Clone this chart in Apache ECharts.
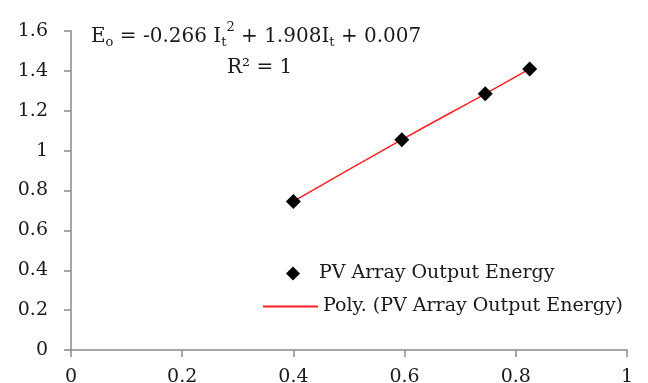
<!DOCTYPE html>
<html>
<head>
<meta charset="utf-8">
<script src="https://cdn.jsdelivr.net/npm/echarts@6/dist/echarts.min.js"></script>
<style>
  html, body { margin: 0; padding: 0; background: #fff; }
  #chart { width: 648px; height: 383px; }
</style>
</head>
<body>
<div id="chart"></div>
<script>
// Irradiance (x) vs PV array output energy (y)
const irradiance = [0.40, 0.595, 0.745, 0.825];
const outputEnergy = [0.745, 1.055, 1.285, 1.41];

const xTicks = [0, 0.2, 0.4, 0.6, 0.8, 1];
const yTicks = [0, 0.2, 0.4, 0.6, 0.8, 1, 1.2, 1.4, 1.6];

const seriesName = 'PV Array Output Energy';
const trendName = 'Poly. (PV Array Output Energy)';

const points = irradiance.map((x, i) => [x, outputEnergy[i]]);

const serif = '"DejaVu Serif", "Liberation Serif", serif';
const textColor = '#1a1a1a';
const axisColor = '#8a8a8a';
const fs = 19;
const eqFs = 20;

const tickLabel = ticks => v => String(ticks.find(t => Math.abs(t - v) < 1e-9) ?? v);

const chart = echarts.init(document.getElementById('chart'));

chart.setOption({
  animation: false,
  backgroundColor: '#fff',
  textStyle: { fontFamily: serif },
  grid: { left: 71, right: 21, top: 31, bottom: 33, containLabel: false, outerBoundsMode: 'none' },
  title: {
    left: 86,
    top: 16,
    text: '{b|E}{s|o}{b| = -0.266 I}{s|t}{p|2}{b| + 1.908I}{s|t}{b| + 0.007}\n{c|R² = 1}',
    textStyle: {
      fontWeight: 'normal',
      rich: {
        b: { fontFamily: serif, fontSize: eqFs, color: textColor, lineHeight: 31 },
        s: { fontFamily: serif, fontSize: 13, color: textColor, padding: [12, 0, 0, 0], lineHeight: 31 },
        p: { fontFamily: serif, fontSize: 13, color: textColor, padding: [0, 0, 17, 0], lineHeight: 31 },
        c: { fontFamily: serif, fontSize: eqFs, color: textColor, padding: [0, 0, 0, 136], lineHeight: 31 }
      }
    }
  },
  legend: [
    {
      orient: 'vertical',
      left: 281,
      top: 259,
      itemWidth: 14,
      itemHeight: 14,
      textStyle: { fontFamily: serif, fontSize: fs, color: textColor, padding: [0, 0, 0, 14] },
      data: [{ name: seriesName, icon: 'diamond' }]
    },
    {
      orient: 'vertical',
      left: 258,
      top: 292,
      itemWidth: 55,
      itemHeight: 2,
      textStyle: { fontFamily: serif, fontSize: fs, color: textColor },
      data: [{ name: trendName, icon: 'rect' }]
    }
  ],
  xAxis: {
    type: 'value',
    min: xTicks[0],
    max: xTicks[xTicks.length - 1],
    interval: xTicks[1] - xTicks[0],
    splitLine: { show: false },
    axisLine: { lineStyle: { color: axisColor, width: 1.5 } },
    axisTick: { length: 7, lineStyle: { color: axisColor, width: 1.5 } },
    axisLabel: {
      margin: 18,
      fontFamily: serif, fontSize: fs, color: textColor,
      formatter: tickLabel(xTicks)
    }
  },
  yAxis: {
    type: 'value',
    min: yTicks[0],
    max: yTicks[yTicks.length - 1],
    interval: yTicks[1] - yTicks[0],
    splitLine: { show: false },
    axisLine: { show: true, lineStyle: { color: axisColor, width: 1.5 } },
    axisTick: { show: true, length: 7, lineStyle: { color: axisColor, width: 1.5 } },
    axisLabel: {
      margin: 23,
      fontFamily: serif, fontSize: fs, color: textColor,
      formatter: tickLabel(yTicks)
    }
  },
  series: [
    {
      name: trendName,
      type: 'line',
      data: points,
      smooth: true,
      symbol: 'none',
      lineStyle: { color: '#ff2020', width: 1.5 },
      itemStyle: { color: '#ff2020' },
      z: 2
    },
    {
      name: seriesName,
      type: 'scatter',
      data: points,
      symbol: 'diamond',
      symbolSize: 15,
      itemStyle: { color: '#000', opacity: 1 },
      z: 3
    }
  ]
});
</script>
</body>
</html>
